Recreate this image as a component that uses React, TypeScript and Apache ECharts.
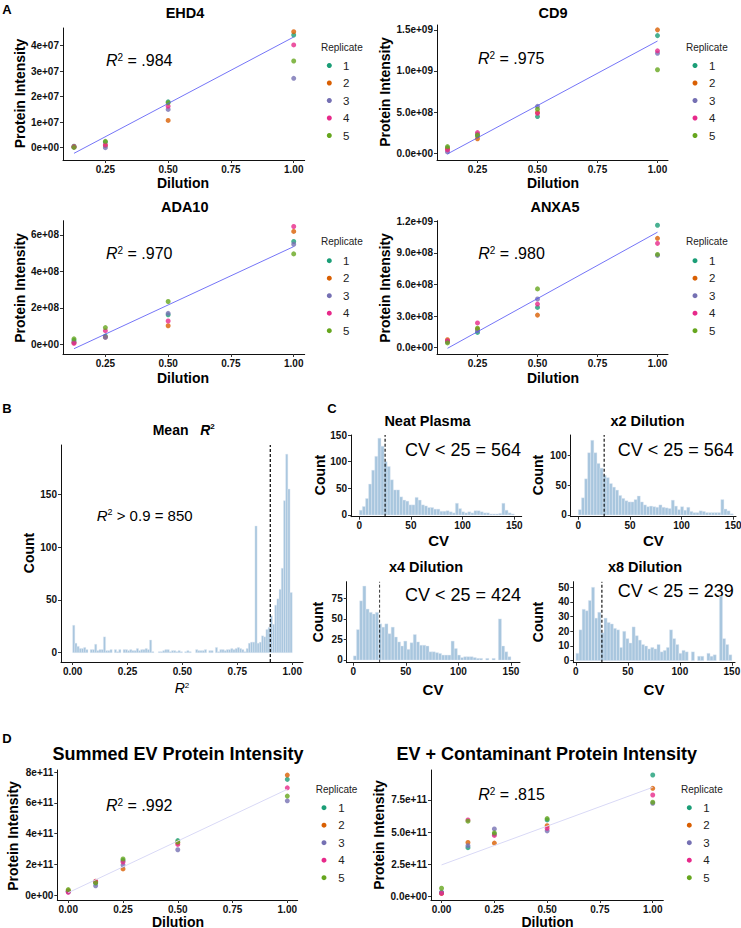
import React, { useEffect, useRef } from "react";
import * as echarts from "echarts";

const FONT = '"Liberation Sans", Arial, Helvetica, sans-serif';

// ---------- shared ----------
const replicates = ["1", "2", "3", "4", "5"];
const replicateColors = ["#1B9E77", "#D95F02", "#7570B3", "#E7298A", "#66A61E"];

const dilutionsA = [0.125, 0.25, 0.5, 1.0];
const dilutionsD = [0, 0.125, 0.25, 0.5, 1.0];
const dilutionTicksA = [0.25, 0.5, 0.75, 1.0];
const dilutionTicksD = [0, 0.25, 0.5, 0.75, 1.0];

// ---------- panel A (rows = replicate 1..5, cols = dilution) ----------
const ehd4Values = [
  [0.06e7, 0.22e7, 1.8e7, 4.42e7],
  [0.03e7, 0.08e7, 1.07e7, 4.55e7],
  [0.02e7, 0.0e7, 1.5e7, 2.72e7],
  [0.04e7, 0.12e7, 1.63e7, 4.03e7],
  [0.01e7, 0.25e7, 1.76e7, 3.4e7],
];
const ehd4Fit = [0.125, -0.22e7, 1.0, 4.34e7];
const ehd4YTicks = [0, 1e7, 2e7, 3e7, 4e7];
const ehd4R2 = ".984";

const cd9Values = [
  [0.65e8, 2.1e8, 4.45e8, 14.3e8],
  [0.5e8, 1.75e8, 4.95e8, 15.0e8],
  [0.15e8, 2.3e8, 5.7e8, 12.15e8],
  [0.4e8, 2.5e8, 4.85e8, 12.45e8],
  [0.8e8, 2.2e8, 5.35e8, 10.15e8],
];
const cd9Fit = [0.125, -0.09e8, 1.0, 13.64e8];
const cd9YTicks = [0, 5e8, 1e9, 1.5e9];
const cd9R2 = ".975";

const ada10Values = [
  [0.22e8, 0.45e8, 1.62e8, 5.64e8],
  [0.1e8, 0.4e8, 1.02e8, 6.19e8],
  [0.12e8, 0.38e8, 1.7e8, 5.49e8],
  [0.05e8, 0.75e8, 1.28e8, 6.46e8],
  [0.3e8, 0.92e8, 2.35e8, 4.96e8],
];
const ada10Fit = [0.125, -0.24e8, 1.0, 5.36e8];
const ada10YTicks = [0, 2e8, 4e8, 6e8];
const ada10R2 = ".970";

const anxa5Values = [
  [0.6e8, 1.45e8, 3.82e8, 11.62e8],
  [0.75e8, 1.75e8, 3.09e8, 10.38e8],
  [0.55e8, 1.6e8, 4.62e8, 8.76e8],
  [0.65e8, 2.35e8, 4.14e8, 9.9e8],
  [0.45e8, 1.85e8, 5.58e8, 8.85e8],
];
const anxa5Fit = [0.125, -0.06e8, 1.0, 10.96e8];
const anxa5YTicks = [0, 3e8, 6e8, 9e8, 1.2e9];
const anxa5R2 = ".980";

// ---------- panel B ----------
const r2BinWidth = 0.01;
const r2Counts = [
  26, 9, 6, 4, 4, 5, 3, 0, 3, 3,
  8, 2, 3, 3, 15, 2, 2, 3, 0, 3,
  1, 3, 0, 3, 3, 2, 3, 2, 2, 4,
  2, 3, 3, 4, 3, 12, 1, 0, 0, 1,
  1, 2, 3, 3, 1, 2, 2, 1, 2, 1,
  0, 1, 2, 1, 0, 0, 3, 2, 2, 2,
  3, 0, 2, 2, 0, 5, 1, 3, 3, 2,
  3, 3, 4, 3, 4, 5, 4, 3, 1, 4,
  9, 10, 10, 120, 9, 10, 16, 15, 22, 24,
  35, 27, 45, 51, 60, 80, 144, 188, 155, 57,
];
const r2Cutoff = 0.9;
const r2Above = 850;
const r2XTicks = [0, 0.25, 0.5, 0.75, 1.0];
const r2YTicks = [0, 50, 100, 150];

// ---------- panel C ----------
const cvBinWidth = 3;
const cvNeat = [
  9, 16, 31, 58, 84, 110, 144, 129, 100, 91,
  66, 47, 47, 34, 28, 26, 19, 19, 33, 28,
  19, 17, 14, 14, 11, 11, 7, 7, 8, 6,
  4, 22, 12, 6, 4, 6, 4, 8, 8, 6,
  4, 4, 2, 2, 2, 3, 22, 9, 4, 2,
];
const cvX2 = [
  9, 29, 61, 105, 126, 105, 87, 79, 67, 63,
  53, 47, 42, 33, 28, 24, 22, 22, 26, 32,
  22, 17, 14, 15, 14, 13, 17, 13, 12, 11,
  25, 15, 9, 14, 8, 13, 6, 4, 4, 7,
  6, 4, 4, 4, 4, 4, 26, 10, 7, 2,
];
const cvX4 = [
  5, 37, 72, 90, 62, 58, 56, 58, 44, 40,
  44, 32, 40, 28, 22, 17, 23, 13, 21, 31,
  22, 18, 18, 17, 10, 10, 9, 8, 6, 6,
  6, 23, 14, 6, 3, 4, 4, 4, 3, 2,
  2, 0, 2, 0, 2, 0, 50, 17, 10, 4,
];
const cvX8 = [
  5, 21, 35, 34, 41, 50, 29, 33, 19, 29,
  26, 25, 22, 21, 9, 20, 15, 12, 23, 17,
  14, 11, 10, 8, 9, 8, 11, 6, 7, 9,
  21, 15, 11, 5, 7, 6, 0, 6, 0, 3,
  3, 0, 5, 3, 4, 0, 44, 15, 11, 4,
];
const cvCutoff = 25;
const cvTitles = ["Neat Plasma", "x2 Dilution", "x4 Dilution", "x8 Dilution"];
const cvBelow = [564, 564, 424, 239];
const cvXTicks = [0, 50, 100, 150];
const cvYTicksNeat = [0, 50, 100, 150];
const cvYTicksX2 = [0, 50, 100];
const cvYTicksX4 = [0, 25, 50, 75];
const cvYTicksX8 = [0, 10, 20, 30, 40, 50];

// ---------- panel D ----------
const summedValues = [
  [0.25e11, 0.78e11, 2.25e11, 3.55e11, 7.54e11],
  [0.28e11, 0.9e11, 1.7e11, 3.4e11, 7.82e11],
  [0.2e11, 0.6e11, 1.95e11, 2.95e11, 6.14e11],
  [0.18e11, 0.88e11, 2.15e11, 3.3e11, 6.99e11],
  [0.35e11, 0.8e11, 2.35e11, 3.45e11, 6.45e11],
];
const summedFit = [0, 0.15e11, 1.0, 6.89e11];
const summedYTicks = [0, 2e11, 4e11, 6e11, 8e11];
const summedR2 = ".992";

const evContValues = [
  [0.3e11, 3.8e11, 4.85e11, 5.95e11, 9.43e11],
  [0.25e11, 4.2e11, 4.15e11, 5.5e11, 8.4e11],
  [0.35e11, 3.95e11, 5.25e11, 5.1e11, 7.24e11],
  [0.25e11, 5.95e11, 4.75e11, 5.3e11, 7.88e11],
  [0.65e11, 5.85e11, 4.95e11, 6.05e11, 7.32e11],
];
const evContFit = [0, 2.46e11, 1.0, 8.48e11];
const evContYTicks = [0, 2.5e11, 5e11, 7.5e11];
const evContR2 = ".815";

// ---------- layout (pixel rects + axis windows) ----------
const L = {
  ehd4: { left: 63, top: 28, width: 241.7, height: 132, x: [0.08125, 1.04375], y: [-0.482e7, 4.694e7] },
  cd9: { left: 437, top: 25, width: 231, height: 135, x: [0.08125, 1.04375], y: [-0.083e9, 1.559e9] },
  ada10: { left: 63, top: 220.7, width: 241.7, height: 133.3, x: [0.08125, 1.04375], y: [-0.53e8, 6.78e8] },
  anxa5: { left: 437, top: 220.7, width: 231, height: 133.3, x: [0.08125, 1.04375], y: [-0.6e8, 12.05e8] },
  r2: { left: 61, top: 445, width: 242, height: 217, x: [-0.053, 1.049], y: [-8.8, 196.7] },
  neat: { left: 351, top: 435, width: 170.7, height: 81.7, x: [-8, 157.2], y: [-3.2, 150] },
  x2: { left: 570.7, top: 435, width: 165.3, height: 81.7, x: [-7.4, 152.7], y: [-2.9, 134.9] },
  x4: { left: 346.7, top: 581.7, width: 173.3, height: 81, x: [-6.3, 158.6], y: [-3.3, 95.3] },
  x8: { left: 573.3, top: 581.7, width: 161.7, height: 81, x: [-2.5, 153], y: [-1.4, 53.8] },
  summed: { left: 57.3, top: 770, width: 240.4, height: 130, x: [-0.05, 1.0475], y: [-0.326e11, 8.15e11] },
  evCont: { left: 431, top: 770, width: 232.3, height: 130, x: [-0.05, 1.05], y: [-0.26e11, 9.82e11] },
};

const HIST_FILL = "#a8c6de";
const HIST_EDGE = "#e2ecf4";

const sci = (d: number) => (v: number) =>
  Number(v)
    .toExponential(d)
    .replace(/e([+-])(\d)$/, (_m: string, sg: string, dg: string) => "e" + sg + "0" + dg);
const fix2 = (v: number) => Number(v).toFixed(2);
const plain = (v: number) => String(v);

function axis(i: number, range: number[], ticks: number[], fmt: any) {
  return {
    type: "value",
    gridIndex: i,
    min: range[0],
    max: range[1],
    splitLine: { show: false },
    axisLine: { show: true, onZero: false, lineStyle: { color: "#111", width: 1 } },
    axisTick: { show: true, length: 3, customValues: ticks, lineStyle: { color: "#333", width: 1 } },
    axisLabel: {
      customValues: ticks,
      formatter: fmt,
      fontFamily: FONT,
      fontWeight: "bold",
      fontSize: 10,
      color: "#111",
      margin: 4,
    },
  };
}

function T(x: number, y: number, text: string, fontSize: number, o: any = {}) {
  return {
    type: "text",
    x,
    y,
    rotation: o.rotation || 0,
    silent: true,
    style: {
      text,
      fontSize,
      fontFamily: FONT,
      fontWeight: o.bold ? "bold" : "normal",
      fontStyle: o.italic ? "italic" : "normal",
      fill: o.fill || "#000",
      align: o.align || "center",
      verticalAlign: o.valign || "middle",
      rich: o.rich,
    },
  };
}

const richR2 = (size: number, bold = false) => ({
  i: { fontStyle: "italic", fontSize: size, fontFamily: FONT, fontWeight: bold ? "bold" : "normal" },
  s: { fontSize: Math.round(size * 0.6), fontFamily: FONT, verticalAlign: "top", fontWeight: bold ? "bold" : "normal" },
  n: { fontSize: size, fontFamily: FONT, fontWeight: bold ? "bold" : "normal" },
});

function legend(tx: number, ty: number, dotX: number, labX: number, y0: number) {
  const els: any[] = [T(tx, ty, "Replicate", 10, { align: "left", fill: "#222" })];
  replicates.forEach((r, i) => {
    const y = y0 + i * 17.5;
    els.push({ type: "circle", silent: true, shape: { cx: dotX, cy: y, r: 2.5 }, style: { fill: replicateColors[i] } });
    els.push(T(labX, y, r, 11.5, { align: "left", fill: "#222" }));
  });
  return els;
}

function scatterSeries(idx: number, dil: number[], vals: number[][], fit: number[], fitColor: string, fitWidth: number) {
  const s: any[] = vals.map((row, r) => ({
    type: "scatter",
    name: replicates[r],
    xAxisIndex: idx,
    yAxisIndex: idx,
    symbol: "circle",
    symbolSize: 5,
    itemStyle: { color: replicateColors[r] },
    data: dil.map((d, j) => [d, row[j]]),
    silent: true,
  }));
  s.push({
    type: "line",
    xAxisIndex: idx,
    yAxisIndex: idx,
    showSymbol: false,
    symbol: "none",
    silent: true,
    lineStyle: { color: fitColor, width: fitWidth },
    data: [
      [fit[0], fit[1]],
      [fit[2], fit[3]],
    ],
  });
  return s;
}

function histSeries(idx: number, counts: number[], bw: number, cutoff: number, yr: number[], dashW: number) {
  return [
    {
      type: "custom",
      xAxisIndex: idx,
      yAxisIndex: idx,
      silent: true,
      data: counts.map((c, i) => [i * bw, (i + 1) * bw, c]),
      encode: { x: [0, 1], y: 2 },
      renderItem: (_p: any, api: any) => {
        const c = api.value(2);
        if (!c) return { type: "group", children: [] };
        const a = api.coord([api.value(0), 0]);
        const b = api.coord([api.value(1), c]);
        return {
          type: "rect",
          shape: { x: a[0], y: b[1], width: b[0] - a[0], height: a[1] - b[1] },
          style: { fill: HIST_FILL, stroke: HIST_EDGE, lineWidth: 0.4 },
        };
      },
    },
    {
      type: "line",
      xAxisIndex: idx,
      yAxisIndex: idx,
      showSymbol: false,
      symbol: "none",
      silent: true,
      lineStyle: { color: "#000", width: dashW, type: [3, 2] },
      data: [
        [cutoff, yr[0]],
        [cutoff, yr[1]],
      ],
    },
  ];
}

export default function App() {
  const ref = useRef<HTMLDivElement>(null);
  useEffect(() => {
    if (!ref.current) return;
    const chart = echarts.init(ref.current, null, { renderer: "svg" });
    const order = [L.ehd4, L.cd9, L.ada10, L.anxa5, L.r2, L.neat, L.x2, L.x4, L.x8, L.summed, L.evCont];
    const grids = order.map((g) => ({ left: g.left, top: g.top, width: g.width, height: g.height, containLabel: false, outerBoundsMode: "none" }));

    const xAxes = [
      axis(0, L.ehd4.x, dilutionTicksA, fix2),
      axis(1, L.cd9.x, dilutionTicksA, fix2),
      axis(2, L.ada10.x, dilutionTicksA, fix2),
      axis(3, L.anxa5.x, dilutionTicksA, fix2),
      axis(4, L.r2.x, r2XTicks, fix2),
      axis(5, L.neat.x, cvXTicks, plain),
      axis(6, L.x2.x, cvXTicks, plain),
      axis(7, L.x4.x, cvXTicks, plain),
      axis(8, L.x8.x, cvXTicks, plain),
      axis(9, L.summed.x, dilutionTicksD, fix2),
      axis(10, L.evCont.x, dilutionTicksD, fix2),
    ];
    const yAxes = [
      axis(0, L.ehd4.y, ehd4YTicks, sci(0)),
      axis(1, L.cd9.y, cd9YTicks, sci(1)),
      axis(2, L.ada10.y, ada10YTicks, sci(0)),
      axis(3, L.anxa5.y, anxa5YTicks, sci(1)),
      axis(4, L.r2.y, r2YTicks, plain),
      axis(5, L.neat.y, cvYTicksNeat, plain),
      axis(6, L.x2.y, cvYTicksX2, plain),
      axis(7, L.x4.y, cvYTicksX4, plain),
      axis(8, L.x8.y, cvYTicksX8, plain),
      axis(9, L.summed.y, summedYTicks, sci(0)),
      axis(10, L.evCont.y, evContYTicks, sci(1)),
    ];

    const blueFit = "#5252f5";
    const paleFit = "#d9d9f6";
    const series: any[] = [
      ...scatterSeries(0, dilutionsA, ehd4Values, ehd4Fit, blueFit, 0.8),
      ...scatterSeries(1, dilutionsA, cd9Values, cd9Fit, blueFit, 0.8),
      ...scatterSeries(2, dilutionsA, ada10Values, ada10Fit, blueFit, 0.8),
      ...scatterSeries(3, dilutionsA, anxa5Values, anxa5Fit, blueFit, 0.8),
      ...histSeries(4, r2Counts, r2BinWidth, r2Cutoff, L.r2.y, 1.2),
      ...histSeries(5, cvNeat, cvBinWidth, cvCutoff, L.neat.y, 1.1),
      ...histSeries(6, cvX2, cvBinWidth, cvCutoff, L.x2.y, 1.1),
      ...histSeries(7, cvX4, cvBinWidth, cvCutoff, L.x4.y, 0.8),
      ...histSeries(8, cvX8, cvBinWidth, cvCutoff, L.x8.y, 1.1),
      ...scatterSeries(9, dilutionsD, summedValues, summedFit, paleFit, 1),
      ...scatterSeries(10, dilutionsD, evContValues, evContFit, paleFit, 1),
    ];

    const B = { bold: true };
    const rot = { bold: true, rotation: Math.PI / 2 };
    const r16 = richR2(16);
    const graphics: any[] = [
      // panel letters
      T(7, 9, "A", 13, B),
      T(7, 408, "B", 13, B),
      T(332, 408, "C", 13, B),
      T(7, 738, "D", 13, B),
      // titles
      T(185, 12.5, "EHD4", 14.5, B),
      T(553, 12.5, "CD9", 14.5, B),
      T(184.7, 207, "ADA10", 14.5, B),
      T(555, 207, "ANXA5", 14.5, B),
      T(183.7, 429.5, "{b|Mean   }{i|R}{s|2}", 14, { bold: true, rich: richR2(14, true) }),
      T(427.5, 421, cvTitles[0], 14.5, B),
      T(647.5, 421, cvTitles[1], 14.5, B),
      T(426, 567, cvTitles[2], 14.5, B),
      T(645, 567, cvTitles[3], 14.5, B),
      T(178, 753.5, "Summed EV Protein Intensity", 18, B),
      T(546.7, 753.5, "EV + Contaminant Protein Intensity", 18, B),
      // axis names
      T(19.5, 93.5, "Protein Intensity", 14, rot),
      T(384.5, 92, "Protein Intensity", 14, rot),
      T(19.5, 288, "Protein Intensity", 14, rot),
      T(384.5, 288, "Protein Intensity", 14, rot),
      T(13, 836, "Protein Intensity", 14, rot),
      T(379, 835, "Protein Intensity", 14, rot),
      T(183, 182.7, "Dilution", 14, B),
      T(553, 182.7, "Dilution", 14, B),
      T(183, 378, "Dilution", 14, B),
      T(553, 378, "Dilution", 14, B),
      T(178, 921.5, "Dilution", 14, B),
      T(547.5, 921.5, "Dilution", 14, B),
      T(28.5, 553, "Count", 14, rot),
      T(320, 475, "Count", 14, rot),
      T(538, 475, "Count", 14, rot),
      T(318, 622, "Count", 14, rot),
      T(538, 622, "Count", 14, rot),
      T(438.7, 540, "CV", 15, B),
      T(653.3, 540, "CV", 15, B),
      T(433, 689, "CV", 15, B),
      T(654, 689, "CV", 15, B),
      T(182, 688, "{i|R}{s|2}", 14, { rich: richR2(14) }),
      // annotations
      T(106, 60, `{i|R}{s|2}{n| = ${ehd4R2}}`, 16, { align: "left", rich: r16 }),
      T(478, 58.3, `{i|R}{s|2}{n| = ${cd9R2}}`, 16, { align: "left", rich: r16 }),
      T(106, 253.3, `{i|R}{s|2}{n| = ${ada10R2}}`, 16, { align: "left", rich: r16 }),
      T(478.3, 253.5, `{i|R}{s|2}{n| = ${anxa5R2}}`, 16, { align: "left", rich: r16 }),
      T(106, 805.5, `{i|R}{s|2}{n| = ${summedR2}}`, 16, { align: "left", rich: r16 }),
      T(478.3, 794.5, `{i|R}{s|2}{n| = ${evContR2}}`, 16, { align: "left", rich: r16 }),
      T(96.7, 515, `{i|R}{s|2}{n| > ${r2Cutoff} = ${r2Above}}`, 15, { align: "left", rich: richR2(15) }),
      T(405, 450, `CV < ${cvCutoff} = ${cvBelow[0]}`, 18, { align: "left" }),
      T(617.7, 450, `CV < ${cvCutoff} = ${cvBelow[1]}`, 18, { align: "left" }),
      T(405, 594.5, `CV < ${cvCutoff} = ${cvBelow[2]}`, 18, { align: "left" }),
      T(617.7, 591, `CV < ${cvCutoff} = ${cvBelow[3]}`, 18, { align: "left" }),
      // legends
      ...legend(321, 47, 329.3, 343, 65.5),
      ...legend(686, 47, 695, 709, 65.5),
      ...legend(321, 241.7, 329.3, 343, 260.7),
      ...legend(686, 241.7, 695, 709, 260.7),
      ...legend(315.7, 789.3, 324, 338.3, 807.7),
      ...legend(681, 789.3, 689.3, 703.3, 807.7),
    ];

    chart.setOption({
      animation: false,
      backgroundColor: "#fff",
      textStyle: { fontFamily: FONT },
      grid: grids,
      xAxis: xAxes,
      yAxis: yAxes,
      series,
      graphic: { elements: graphics },
    });
    return () => chart.dispose();
  }, []);
  return <div ref={ref} style={{ position: "absolute", left: 0, top: 0, width: 741, height: 928 }} />;
}
